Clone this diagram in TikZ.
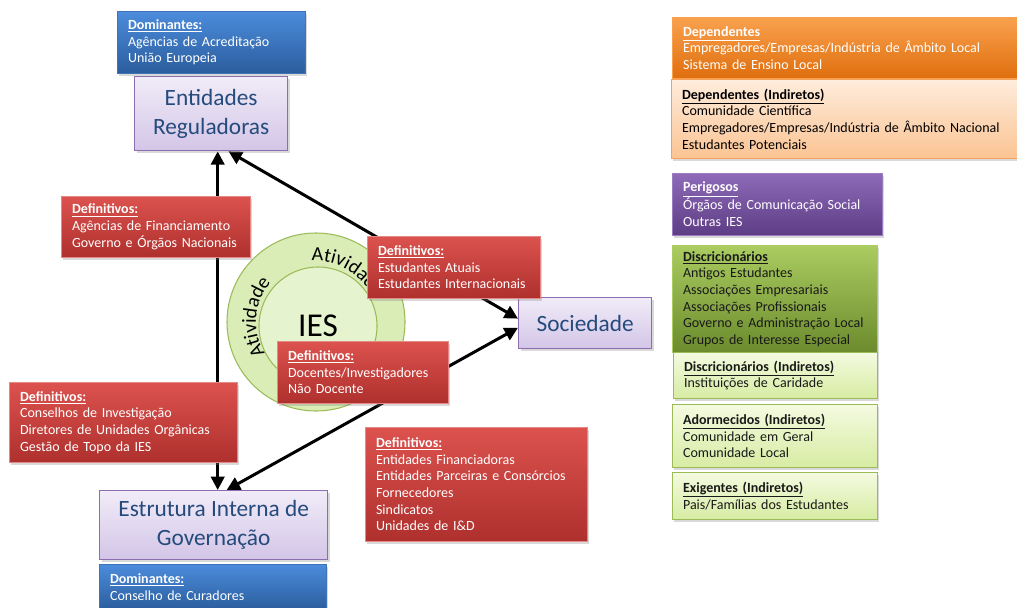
\documentclass[tikz,border=0pt]{standalone}
\usepackage{fontspec}
\setmainfont{Carlito}
\usetikzlibrary{arrows.meta,shadows,backgrounds,decorations.text}

\definecolor{redtop}{HTML}{DC524E}
\definecolor{redbot}{HTML}{AE302D}
\definecolor{redline}{HTML}{E48986}
\definecolor{bluetop}{HTML}{4C8CDC}
\definecolor{bluebot}{HTML}{2A5D9D}
\definecolor{blueline}{HTML}{3E73B7}
\definecolor{lavtop}{HTML}{F1ECF8}
\definecolor{lavbot}{HTML}{D3C5E7}
\definecolor{lavline}{HTML}{8C6DB0}
\definecolor{titleblue}{HTML}{254A7C}
\definecolor{orgtop}{HTML}{F9A14E}
\definecolor{orgbot}{HTML}{DF6E0D}
\definecolor{peachtop}{HTML}{FEECDC}
\definecolor{peachbot}{HTML}{FBC493}
\definecolor{peachline}{HTML}{F6A25C}
\definecolor{purtop}{HTML}{8E6AB8}
\definecolor{purbot}{HTML}{5D3D85}
\definecolor{purline}{HTML}{9A7CC0}
\definecolor{grntop}{HTML}{AACC60}
\definecolor{grnbot}{HTML}{6B8B2D}
\definecolor{lgtop}{HTML}{F4FAE0}
\definecolor{lgbot}{HTML}{D7ECA3}
\definecolor{lgline}{HTML}{9BBB59}
\definecolor{ringfill}{HTML}{DAEDB7}
\definecolor{iesfill}{HTML}{E6F3CF}

\newcommand{\boxtitle}[1]{\underline{\textbf{#1}}}
\newcommand{\ringfont}{\fontsize{15}{15}\selectfont}

\tikzset{
	box/.style={rectangle, anchor=north west, inner xsep=8pt, inner ysep=2pt, align=left, line width=0.6pt, font=\fontsize{10.5}{12.5}\selectfont, drop shadow={shadow xshift=1.5pt, shadow yshift=-2pt, opacity=0.3}},
	sz/.style 2 args={text width=#1-16pt, minimum height=#2},
	redbox/.style={box, draw=redline, top color=redtop, bottom color=redbot, text=white},
	bluebox/.style={box, draw=blueline, top color=bluetop, bottom color=bluebot, text=white},
	orgbox/.style={box, draw=orgtop, top color=orgtop, bottom color=orgbot, text=white},
	peachbox/.style={box, draw=peachline, top color=peachtop, bottom color=peachbot, text=black},
	purbox/.style={box, draw=purline, top color=purtop, bottom color=purbot, text=white},
	grnbox/.style={box, draw=grntop, top color=grntop, bottom color=grnbot, text=black!90},
	lgbox/.style={box, draw=lgline, top color=lgtop, bottom color=lgbot, text=black!90},
	titlebox/.style={rectangle, anchor=north west, draw=lavline, line width=1pt, top color=lavtop, bottom color=lavbot, text=titleblue, align=center, font=\fontsize{17.5}{22}\selectfont, drop shadow={shadow xshift=1.5pt, shadow yshift=-2pt, opacity=0.3}},
	disc/.style={circle, draw=lgline, line width=0.8pt},
	conn/.style={line width=2.25pt, {Triangle[length=10pt,width=10pt]}-{Triangle[length=10pt,width=10pt]}},
}

\begin{document}
\begin{tikzpicture}[x=0.75pt, y=0.75pt]
	\useasboundingbox (0,0) rectangle (1017,-607);
	\clip (0,0) rectangle (1017,-607);

	\node[disc, fill=ringfill, minimum size=133.5pt] (ring) at (316,-322) {};
	\node[disc, fill=iesfill, minimum size=88.5pt, font=\fontsize{25}{25}\selectfont] (ies) at (318,-326) {IES};
	\path[decorate, decoration={text along path, text align=left, text={|\ringfont|Atividade}}] (ring.center) ++(212:60) arc[start angle=212, end angle=140, radius=60];
	\path[decorate, decoration={text along path, text align=left, text={|\ringfont|Atividade}}] (ring.center) ++(94:61) arc[start angle=94, end angle=15, radius=61];

	\node[bluebox, sz={141pt}{46.5pt}] (domreg) at (117,-11) {\boxtitle{Dominantes:}\\Agências de Acreditação\\União Europeia};
	\node[titlebox, minimum width=114.75pt, minimum height=55.5pt] (entreg) at (134,-76) {Entidades\\Reguladoras};
	\node[titlebox, minimum width=99.75pt, minimum height=38.25pt] (soc) at (518,-297) {Sociedade};
	\node[titlebox, minimum width=171pt, minimum height=51.75pt] (estr) at (99,-490) {Estrutura Interna de\\Governação};
	\node[bluebox, sz={170.25pt}{34pt}] (domestr) at (99,-564) {\boxtitle{Dominantes:}\\Conselho de Curadores};

	\node[redbox, sz={141.75pt}{45.75pt}] (deffin) at (61,-196) {\boxtitle{Definitivos:}\\Agências de Financiamento\\Governo e Órgãos Nacionais};
	\node[redbox, sz={129.75pt}{46.5pt}] (defest) at (367,-236) {\boxtitle{Definitivos:}\\Estudantes Atuais\\Estudantes Internacionais};
	\node[redbox, sz={128.25pt}{46.5pt}] (defdoc) at (277,-341) {\boxtitle{Definitivos:}\\Docentes/Investigadores\\Não Docente};
	\node[redbox, sz={171pt}{60pt}] (defcons) at (9,-382) {\boxtitle{Definitivos:}\\Conselhos de Investigação\\Diretores de Unidades Orgânicas\\Gestão de Topo da IES};
	\node[redbox, sz={166.5pt}{85.5pt}] (defent) at (365,-427) {\boxtitle{Definitivos:}\\Entidades Financiadoras\\Entidades Parceiras e Consórcios\\Fornecedores\\Sindicatos\\Unidades de I\&D};

	\coordinate (vtop) at ([xshift=4.9pt]entreg.south);
	\begin{scope}[on background layer]
		\draw[conn] (vtop) -- (vtop |- estr.north);
		\draw[conn] ([xshift=13pt]entreg.south) -- ([yshift=3.4pt]soc.west);
		\draw[conn] ([yshift=-3.4pt]soc.west) -- ([xshift=9.75pt]estr.north);
	\end{scope}

	\node[orgbox, sz={268.5pt}{45.75pt}] (dep) at (672,-17) {\boxtitle{Dependentes}\\Empregadores/Empresas/Indústria de Âmbito Local\\Sistema de Ensino Local};
	\node[peachbox, sz={268.5pt}{59.25pt}] (depind) at (671,-79) {\boxtitle{Dependentes (Indiretos)}\\Comunidade Científica\\Empregadores/Empresas/Indústria de Âmbito Nacional\\Estudantes Potenciais};
	\node[purbox, sz={157.5pt}{46.5pt}] (per) at (672,-173) {\boxtitle{Perigosos}\\Órgãos de Comunicação Social\\Outras IES};
	\node[grnbox, sz={153.75pt}{80.25pt}] (disc) at (672,-245) {\boxtitle{Discricionários}\\Antigos Estudantes\\Associações Empresariais\\Associações Profissionais\\Governo e Administração Local\\Grupos de Interesse Especial};
	\node[lgbox, sz={153pt}{34.5pt}] (discind) at (673,-352) {\boxtitle{Discricionários (Indiretos)}\\Instituições de Caridade};
	\node[lgbox, sz={153.75pt}{47.25pt}] (ador) at (672,-404) {\boxtitle{Adormecidos (Indiretos)}\\Comunidade em Geral\\Comunidade Local};
	\node[lgbox, sz={153.75pt}{35.25pt}] (exig) at (672,-472) {\boxtitle{Exigentes (Indiretos)}\\Pais/Famílias dos Estudantes};
\end{tikzpicture}
\end{document}
